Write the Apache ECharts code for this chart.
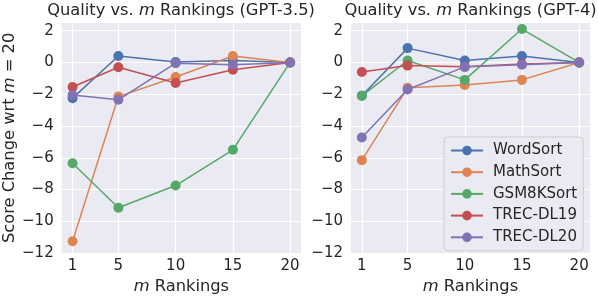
<!DOCTYPE html>
<html>
<head>
<meta charset="utf-8">
<script src="https://cdn.jsdelivr.net/npm/echarts@6/dist/echarts.min.js"></script>
<style>html,body{margin:0;padding:0;background:#fff}#c{width:598px;height:300px}</style>
</head>
<body>
<div id="c"></div>
<script>
const mValues = [1, 5, 10, 15, 20];
const seriesNames = ['WordSort', 'MathSort', 'GSM8KSort', 'TREC-DL19', 'TREC-DL20'];
const colors = ['#4C72B0', '#DD8452', '#55A868', '#C44E52', '#8172B3'];
// GPT-3.5
const gpt35WordSort = [-2.25, 0.4, 0.03, 0.12, 0];
const gpt35MathSort = [-11.25, -2.15, -0.92, 0.4, 0];
const gpt35GSM8KSort = [-6.35, -9.15, -7.75, -5.5, 0];
const gpt35DL19 = [-1.55, -0.3, -1.3, -0.46, 0];
const gpt35DL20 = [-2.05, -2.35, -0.05, -0.15, 0];
// GPT-4
const gpt4WordSort = [-2.1, 0.9, 0.12, 0.4, 0];
const gpt4MathSort = [-6.15, -1.6, -1.42, -1.1, 0];
const gpt4GSM8KSort = [-2.1, 0.12, -1.1, 2.1, 0];
const gpt4DL19 = [-0.6, -0.2, -0.28, -0.1, 0];
const gpt4DL20 = [-4.72, -1.7, -0.28, -0.15, 0];
const yTicks = [-12, -10, -8, -6, -4, -2, 0, 2];

const gpt35 = [gpt35WordSort, gpt35MathSort, gpt35GSM8KSort, gpt35DL19, gpt35DL20];
const gpt4 = [gpt4WordSort, gpt4MathSort, gpt4GSM8KSort, gpt4DL19, gpt4DL20];

const FONT = 'DejaVu Sans';
const TXT = '#262626';

function xAxisCfg(gi) {
  return {
    type: 'value', gridIndex: gi, min: 0.05, max: 20.95,
    name: '{i|m} Rankings', nameLocation: 'middle', nameGap: 23,
    nameTextStyle: { fontFamily: FONT, fontSize: 16.3, color: TXT,
      rich: { i: { fontFamily: FONT, fontStyle: 'italic', fontSize: 16.3, color: TXT } } },
    axisLine: { show: false },
    axisTick: { show: false, customValues: mValues },
    axisLabel: { customValues: mValues, fontFamily: FONT, fontSize: 15, color: TXT, margin: 6 },
    splitLine: { show: true, lineStyle: { color: '#ffffff', width: 1.2 } }
  };
}
function yAxisCfg(gi, withName) {
  const a = {
    type: 'value', gridIndex: gi, min: -12, max: 2.5, interval: 2,
    axisLine: { show: false }, axisTick: { show: false },
    axisLabel: { fontFamily: FONT, fontSize: 15, color: TXT, margin: 8,
      formatter: v => (yTicks.indexOf(v) >= 0 ? String(v).replace('-', '\u2212') : '') },
    splitLine: { show: true, lineStyle: { color: '#ffffff', width: 1.2 } }
  };
  if (withName) {
    a.name = 'Score Change wrt {i|m} = 20';
    a.nameLocation = 'middle';
    a.nameGap = 41;
    a.nameTextStyle = { fontFamily: FONT, fontSize: 16.3, color: TXT,
      rich: { i: { fontFamily: FONT, fontStyle: 'italic', fontSize: 16.3, color: TXT } } };
  }
  return a;
}

const series = [];
[gpt35, gpt4].forEach((grp, gi) => {
  grp.forEach((vals, si) => {
    series.push({
      name: seriesNames[si], type: 'line', xAxisIndex: gi, yAxisIndex: gi,
      data: mValues.map((m, k) => [m, vals[k]]),
      symbol: 'circle', symbolSize: 10, color: colors[si],
      lineStyle: { width: 1.5, color: colors[si] },
      itemStyle: { color: colors[si] },
      animation: false
    });
  });
});

const chart = echarts.init(document.getElementById('c'), null, { renderer: 'canvas' });
chart.setOption({
  animation: false,
  backgroundColor: '#ffffff',
  title: [
    { text: 'Quality vs. {i|m} Rankings (GPT-3.5)', left: 181, top: 3, textAlign: 'center', padding: 0,
      textStyle: { fontFamily: FONT, fontSize: 16.3, fontWeight: 'normal', color: TXT,
        rich: { i: { fontFamily: FONT, fontStyle: 'italic', fontSize: 16.3, color: TXT } } } },
    { text: 'Quality vs. {i|m} Rankings (GPT-4)', left: 470.5, top: 3, textAlign: 'center', padding: 0,
      textStyle: { fontFamily: FONT, fontSize: 16.3, fontWeight: 'normal', color: TXT,
        rich: { i: { fontFamily: FONT, fontStyle: 'italic', fontSize: 16.3, color: TXT } } } }
  ],
  grid: [
    { left: 61.7, top: 22.7, width: 239.3, height: 235.3, show: true, backgroundColor: '#EAEAF2', borderWidth: 0 },
    { left: 351, top: 22.7, width: 239, height: 235.3, show: true, backgroundColor: '#EAEAF2', borderWidth: 0 }
  ],
  xAxis: [xAxisCfg(0), xAxisCfg(1)],
  yAxis: [yAxisCfg(0, true), yAxisCfg(1, false)],
  legend: {
    data: seriesNames, orient: 'vertical', left: 444, top: 137,
    padding: [5, 6, 5, 6], itemGap: 4.7, itemWidth: 32, itemHeight: 12,
    backgroundColor: '#EAEAF2', borderColor: '#cccccc', borderWidth: 1, borderRadius: 4,
    textStyle: { fontFamily: FONT, fontSize: 15, color: TXT, lineHeight: 17, padding: [0, 0, 0, 5] }
  },
  series: series
});
</script>
</body>
</html>
